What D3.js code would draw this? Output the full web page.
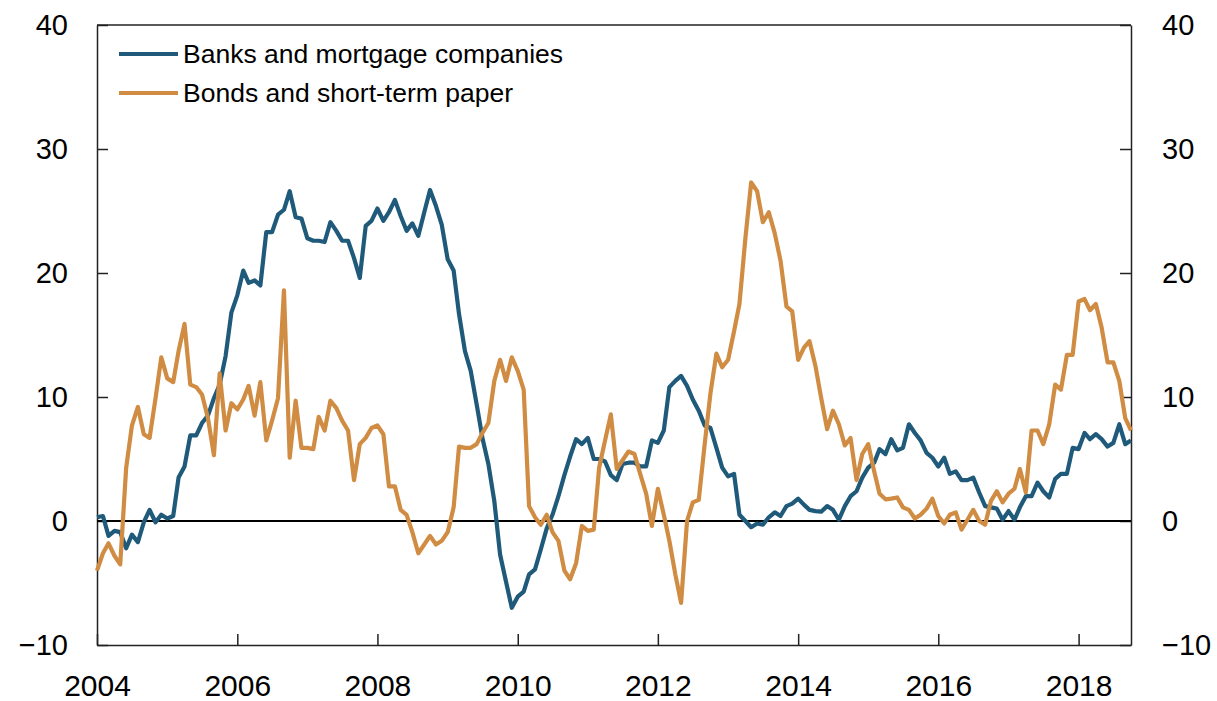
<!DOCTYPE html>
<html>
<head>
<meta charset="utf-8">
<script src="https://cdn.jsdelivr.net/npm/d3@7/dist/d3.min.js"></script>
<style>
  html, body { margin: 0; padding: 0; background: #fff; }
  svg { display: block; font-family: "Liberation Sans", Arial, Helvetica, sans-serif; }
</style>
</head>
<body>
<svg id="chart" width="1217" height="701"></svg>
<script>
// Twelve-month growth, per cent. Monthly observations from January 2004.
const startYear = 2004;
const startMonth = 0;

const seriesNames = ["Banks and mortgage companies", "Bonds and short-term paper"];

const banksMortgage = [
  // 2004
  0.3, 0.4, -1.2, -0.8, -0.9, -2.2, -1.1, -1.7, -0.1, 0.9, -0.1, 0.5,
  // 2005
  0.2, 0.4, 3.5, 4.4, 6.9, 6.9, 7.9, 8.5, 9.9, 11.0, 13.3, 16.8,
  // 2006
  18.2, 20.2, 19.2, 19.4, 19.0, 23.3, 23.3, 24.7, 25.1, 26.6, 24.5, 24.4,
  // 2007
  22.8, 22.6, 22.6, 22.5, 24.1, 23.4, 22.6, 22.6, 21.2, 19.6, 23.8, 24.2,
  // 2008
  25.2, 24.2, 24.9, 25.9, 24.6, 23.4, 24.0, 23.0, 24.9, 26.7, 25.4, 23.9,
  // 2009
  21.1, 20.2, 16.7, 13.7, 12.1, 9.4, 6.7, 4.6, 1.6, -2.7, -4.9, -7.0,
  // 2010
  -6.1, -5.7, -4.3, -3.9, -2.3, -0.6, 0.5, 2.0, 3.7, 5.2, 6.6, 6.2,
  // 2011
  6.7, 5.0, 5.0, 4.8, 3.7, 3.3, 4.6, 4.7, 4.7, 4.4, 4.4, 6.5,
  // 2012
  6.3, 7.3, 10.8, 11.3, 11.7, 10.9, 9.8, 8.9, 7.7, 7.5, 5.9, 4.3,
  // 2013
  3.6, 3.8, 0.5, 0.0, -0.5, -0.2, -0.3, 0.3, 0.7, 0.4, 1.2, 1.4,
  // 2014
  1.8, 1.3, 0.9, 0.8, 0.75, 1.2, 0.9, 0.1, 1.2, 2.0, 2.4, 3.5,
  // 2015
  4.3, 4.7, 5.8, 5.4, 6.6, 5.7, 5.9, 7.8, 7.1, 6.5, 5.5, 5.1,
  // 2016
  4.4, 5.1, 3.8, 4.0, 3.3, 3.3, 3.5, 2.3, 1.2, 1.1, 1.0, 0.1,
  // 2017
  0.8, 0.1, 1.1, 2.0, 2.0, 3.1, 2.4, 1.9, 3.4, 3.8, 3.8, 5.9,
  // 2018
  5.8, 7.1, 6.6, 7.0, 6.6, 6.0, 6.3, 7.8, 6.2, 6.5
];

const bondsPaper = [
  // 2004
  -4.0, -2.6, -1.8, -2.8, -3.5, 4.3, 7.7, 9.2, 7.0, 6.7, 9.9, 13.2,
  // 2005
  11.5, 11.2, 13.7, 15.9, 11.0, 10.8, 10.2, 8.3, 5.3, 11.9, 7.3, 9.5,
  // 2006
  9.0, 9.8, 10.9, 8.5, 11.2, 6.5, 8.1, 9.9, 18.6, 5.1, 9.7, 5.9,
  // 2007
  5.9, 5.8, 8.4, 7.3, 9.7, 9.1, 8.1, 7.3, 3.3, 6.2, 6.7, 7.5,
  // 2008
  7.7, 7.0, 2.8, 2.8, 0.9, 0.5, -0.9, -2.6, -1.9, -1.2, -1.9, -1.6,
  // 2009
  -0.9, 1.1, 6.0, 5.9, 5.9, 6.2, 7.1, 7.9, 11.3, 13.0, 11.3, 13.2,
  // 2010
  12.1, 10.6, 1.2, 0.3, -0.3, 0.5, -0.9, -1.6, -4.0, -4.7, -3.4, -0.4,
  // 2011
  -0.8, -0.7, 4.3, 6.5, 8.6, 4.2, 4.9, 5.6, 5.4, 3.8, 2.2, -0.4,
  // 2012
  2.6, 0.5, -1.6, -4.3, -6.6, 0.0, 1.5, 1.7, 6.2, 10.3, 13.5, 12.4,
  // 2013
  13.0, 15.3, 17.5, 22.8, 27.3, 26.6, 24.1, 24.9, 23.2, 21.0, 17.3, 16.9,
  // 2014
  13.0, 14.0, 14.5, 12.5, 9.9, 7.4, 8.9, 7.8, 6.1, 6.7, 3.3, 5.4,
  // 2015
  6.2, 4.0, 2.2, 1.75, 1.8, 1.9, 1.1, 0.9, 0.2, 0.5, 1.0, 1.8,
  // 2016
  0.4, -0.2, 0.5, 0.7, -0.7, 0.1, 0.9, 0.0, -0.3, 1.6, 2.4, 1.5,
  // 2017
  2.2, 2.6, 4.2, 2.3, 7.3, 7.3, 6.2, 7.8, 11.0, 10.6, 13.4, 13.4,
  // 2018
  17.7, 17.9, 17.0, 17.5, 15.6, 12.8, 12.8, 11.3, 8.3, 7.3
];

const yTicks = [-10, 0, 10, 20, 30, 40];
const xTickYears = [2004, 2006, 2008, 2010, 2012, 2014, 2016, 2018];

const colors = ["#1f5a7a", "#d08c42"];

// Layout
const margin = { left: 97, right: 1131, top: 25, bottom: 645 };
const svg = d3.select("#chart");

const monthDate = i => new Date(startYear, startMonth + i, 1);
const nPoints = banksMortgage.length;

const x = d3.scaleTime()
  .domain([monthDate(0), monthDate(nPoints - 1)])
  .range([margin.left, margin.right]);

const y = d3.scaleLinear()
  .domain([-10, 40])
  .range([margin.bottom, margin.top]);

const fmt = v => (v < 0 ? "\u2212" + Math.abs(v) : String(v));

// Axes with inward ticks
const axisStyle = g => {
  g.selectAll(".domain").attr("stroke", "#222").attr("stroke-width", 1.5);
  g.selectAll(".tick line").attr("stroke", "#222").attr("stroke-width", 1.5);
  g.selectAll(".tick text").attr("fill", "#000").style("font-size", "29px");
};

svg.append("g")
  .attr("transform", `translate(${margin.left},0)`)
  .call(d3.axisLeft(y).tickValues(yTicks).tickFormat(fmt).tickSizeInner(-11).tickSizeOuter(0).tickPadding(29))
  .call(axisStyle);

svg.append("g")
  .attr("transform", `translate(${margin.right},0)`)
  .call(d3.axisRight(y).tickValues(yTicks).tickFormat(fmt).tickSizeInner(-11).tickSizeOuter(0).tickPadding(31))
  .call(axisStyle);

// Year labels: baseline placed explicitly so the glyphs sit inside the page
svg.append("g")
  .attr("transform", `translate(0,${margin.bottom})`)
  .call(d3.axisBottom(x)
    .tickValues(xTickYears.map(yr => new Date(yr, 0, 1)))
    .tickFormat(d3.timeFormat("%Y"))
    .tickSizeInner(-11).tickSizeOuter(0).tickPadding(0))
  .call(axisStyle)
  .call(g => g.selectAll(".tick text")
    .style("font-size", "30px")
    .attr("y", 51)
    .attr("dy", null));

// Top border of the frame
svg.append("line")
  .attr("x1", margin.left).attr("x2", margin.right)
  .attr("y1", margin.top).attr("y2", margin.top)
  .attr("stroke", "#222").attr("stroke-width", 1.5);

svg.selectAll("g text").attr("font-family", "Liberation Sans, Arial, sans-serif");

// Zero line
svg.append("line")
  .attr("x1", margin.left).attr("x2", margin.right)
  .attr("y1", y(0)).attr("y2", y(0))
  .attr("stroke", "#000").attr("stroke-width", 2);

// Series lines
const line = d3.line()
  .x((d, i) => x(monthDate(i)))
  .y(d => y(d))
  .curve(d3.curveLinear);

[banksMortgage, bondsPaper].forEach((values, k) => {
  svg.append("path")
    .datum(values)
    .attr("fill", "none")
    .attr("stroke", colors[k])
    .attr("stroke-width", 4.2)
    .attr("stroke-linejoin", "round")
    .attr("d", line);
});

// Legend
const legend = svg.append("g").attr("transform", "translate(119,54)");
seriesNames.forEach((name, k) => {
  const row = legend.append("g").attr("transform", `translate(0,${k * 39})`);
  row.append("line")
    .attr("x1", 0).attr("x2", 59).attr("y1", 0).attr("y2", 0)
    .attr("stroke", colors[k]).attr("stroke-width", 4);
  row.append("text")
    .attr("x", 64).attr("y", 0).attr("dy", "0.35em")
    .style("font-size", "26.5px")
    .attr("fill", "#000")
    .text(name);
});
</script>
</body>
</html>
